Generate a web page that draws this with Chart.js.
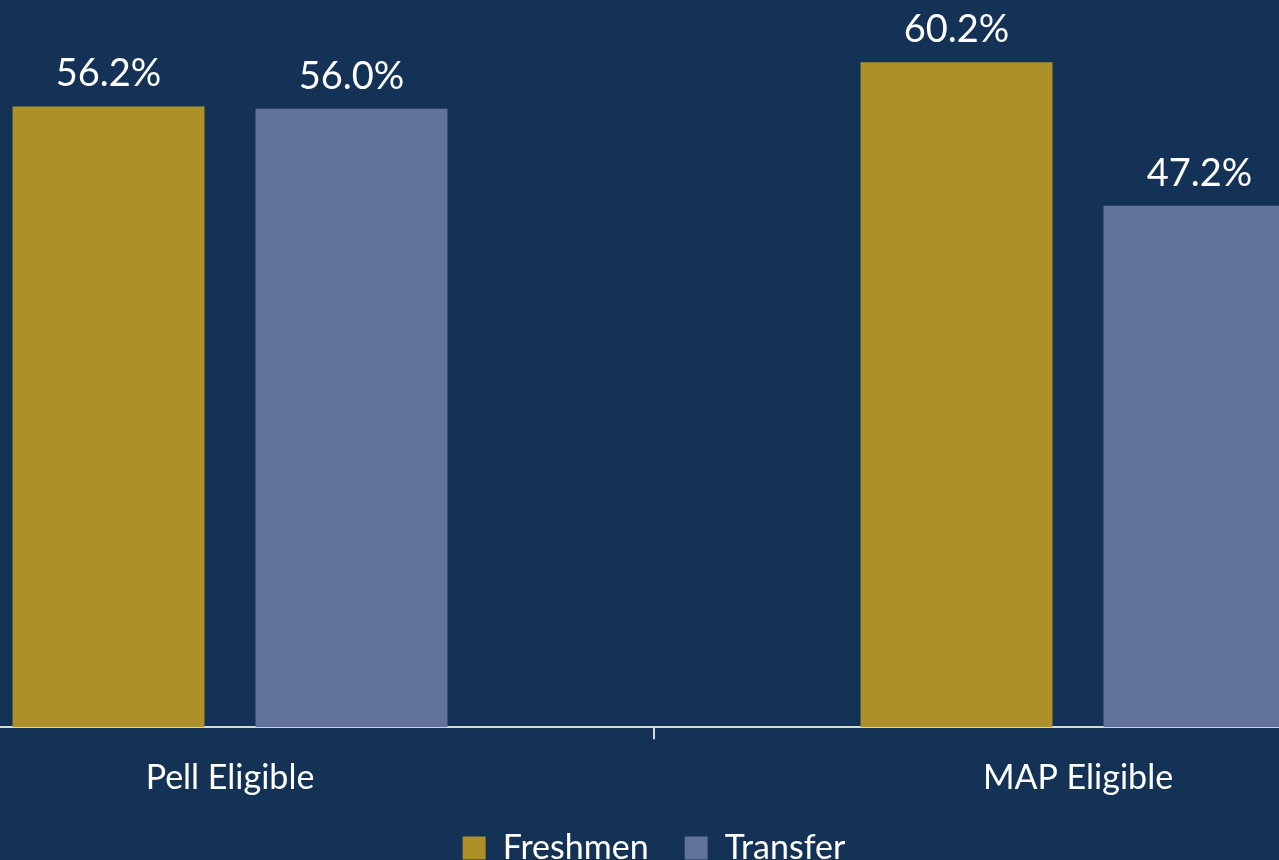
<!DOCTYPE html>
<html>
<head>
<meta charset="utf-8">
<script src="https://cdn.jsdelivr.net/npm/chart.js@4.4.1/dist/chart.umd.min.js"></script>
<style>
  html, body { margin: 0; padding: 0; width: 1279px; height: 860px; overflow: hidden; background: #133255; }
  #wrap { position: absolute; left: -194px; top: -46px; width: 1696px; height: 921px; }
</style>
</head>
<body>
<div id="wrap"><canvas id="c"></canvas></div>
<script>
const categories = ["Pell Eligible", "MAP Eligible"];
const seriesNames = ["Freshmen", "Transfer"];
const freshmen = [56.2, 60.2];
const transfer = [56.0, 47.2];
const seriesColors = ["#AD9027", "#617398"];

const valueLabels = {
  id: 'valueLabels',
  afterDatasetsDraw(chart) {
    const ctx = chart.ctx;
    ctx.save();
    ctx.fillStyle = '#FFFFFF';
    ctx.font = '38px Lato';
    ctx.textAlign = 'center';
    ctx.textBaseline = 'alphabetic';
    chart.data.datasets.forEach((ds, i) => {
      const meta = chart.getDatasetMeta(i);
      meta.data.forEach((el, j) => {
        ctx.fillText(ds.data[j].toFixed(1) + '%', el.x, el.y - 20);
      });
    });
    ctx.restore();
  }
};

new Chart(document.getElementById('c'), {
  type: 'bar',
  data: {
    labels: categories,
    datasets: [
      { label: seriesNames[0], data: freshmen, backgroundColor: seriesColors[0] },
      { label: seriesNames[1], data: transfer, backgroundColor: seriesColors[1] }
    ]
  },
  options: {
    responsive: true,
    maintainAspectRatio: false,
    animation: false,
    layout: { padding: 0 },
    datasets: { bar: { categoryPercentage: 0.573, barPercentage: 0.79 } },
    scales: {
      x: {
        grid: { display: true, drawOnChartArea: false, color: '#D9D9D9', tickLength: 12, lineWidth: 2 },
        border: { display: true, color: '#D9D9D9', width: 2 },
        ticks: { color: '#FFFFFF', font: { family: 'Lato', size: 34 }, padding: 18 },
        afterFit(scale) { scale.height -= 21; }
      },
      y: {
        display: false,
        min: 0, max: 70
      }
    },
    plugins: {
      legend: {
        position: 'bottom',
        labels: {
          color: '#FFFFFF',
          font: { family: 'Lato', size: 34 },
          boxWidth: 23, boxHeight: 23, padding: 36
        }
      },
      tooltip: { enabled: false }
    }
  },
  plugins: [valueLabels]
});
</script>
</body>
</html>
